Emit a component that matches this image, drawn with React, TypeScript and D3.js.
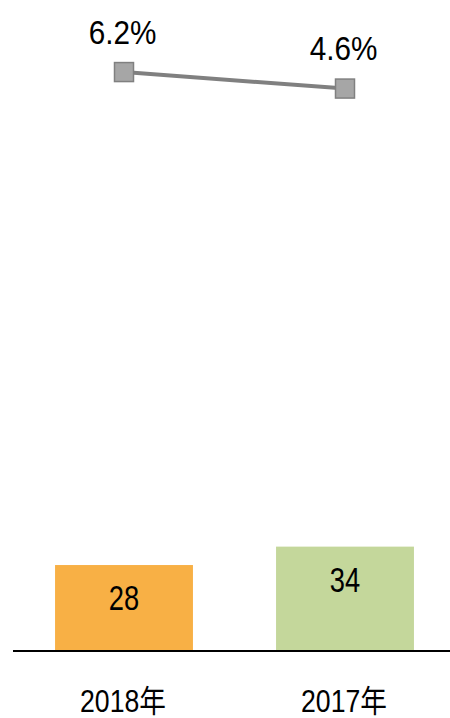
import React from "react";
import * as d3 from "d3";

const categories = ["2018年", "2017年"];
const barValues = [28, 34];
const barColors = ["#F8B045", "#C4D79B"];
const rateValues = [6.2, 4.6];
const rateLabels = ["6.2%", "4.6%"];

const W = 450;
const H = 718;
const FONT = "'Liberation Sans', Arial, 'Noto Sans CJK SC', sans-serif";

function Label({ x, y, size, sx, children }: { x: number; y: number; size: number; sx: number; children: React.ReactNode }) {
  return (
    <text
      transform={`translate(${x},${y}) scale(${sx},1)`}
      textAnchor="middle"
      fontSize={size}
      fill="#000"
    >
      {children}
    </text>
  );
}

export default function App() {
  const x = d3
    .scaleBand<string>()
    .domain(categories)
    .range([13.5, 455.5])
    .paddingInner(0.376)
    .paddingOuter(0.188);
  const yBar = d3.scaleLinear().domain([0, 200]).range([651, 37]);
  const yLine = d3.scaleLinear().domain([0, 8]).range([136, 53.5]);

  const pts: [number, number][] = categories.map((c, i) => [
    (x(c) as number) + x.bandwidth() / 2,
    yLine(rateValues[i]),
  ]);
  const line = d3.line();

  return (
    <svg
      width={W}
      height={H}
      style={{ position: "absolute", left: 0, top: 0, background: "#fff" }}
      fontFamily={FONT}
    >
      {categories.map((c, i) => {
        const bx = x(c) as number;
        const by = yBar(barValues[i]);
        return (
          <g key={c}>
            <rect
              x={bx}
              y={by}
              width={x.bandwidth()}
              height={yBar(0) - by}
              fill={barColors[i]}
            />
            <Label x={bx + x.bandwidth() / 2} y={by + 45} size={35} sx={0.78}>
              {barValues[i]}
            </Label>
            <Label x={bx + x.bandwidth() / 2 - 1} y={712} size={31} sx={0.86}>
              {c}
            </Label>
          </g>
        );
      })}
      <line x1={13} x2={450} y1={651} y2={651} stroke="#000" strokeWidth={2} />
      <path d={line(pts) || ""} fill="none" stroke="#808080" strokeWidth={4} />
      {pts.map((p, i) => (
        <g key={i}>
          <rect
            x={p[0] - 9.5}
            y={p[1] - 9.5}
            width={19}
            height={19}
            fill="#A6A6A6"
            stroke="#808080"
            strokeWidth={1.5}
          />
          <Label x={p[0] - 1.5} y={p[1] - 28.5} size={33} sx={0.9}>
            {rateLabels[i]}
          </Label>
        </g>
      ))}
    </svg>
  );
}
